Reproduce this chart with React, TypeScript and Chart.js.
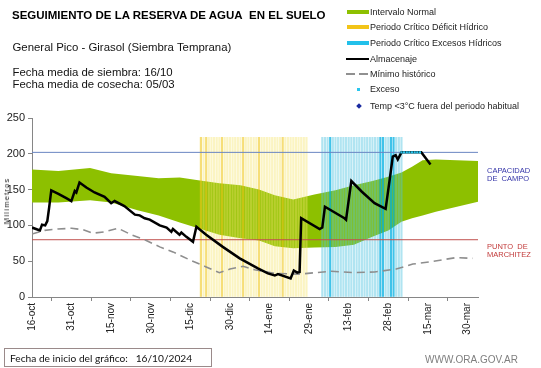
import React, { useEffect, useRef } from 'react';
import { Chart, registerables } from 'chart.js';

Chart.register(...registerables);

// ---- data (x = days since 16-oct) ----
const tickLabels = ['16-oct', '31-oct', '15-nov', '30-nov', '15-dic', '30-dic', '14-ene', '29-ene', '13-feb', '28-feb', '15-mar', '30-mar'];

const capacidadCampo = 202;
const puntoMarchitez = 80;
const stripeTop = 223;

const storageDays = [0, 1.5, 3, 3.8, 5, 5.8, 6.5, 7.3, 10, 13, 14.9, 16.2, 16.8, 18, 20.6, 23.7, 27.5, 30, 31.3, 35, 39, 40.8, 42.7, 44.6, 48.4, 51, 52.8, 53.4, 55.9, 56.6, 58.5, 61, 62.3, 66, 72.3, 78.7, 85.6, 89.4, 92, 93.2, 98, 99.2, 100.5, 101.4, 102, 109, 110, 111, 118.4, 119, 121, 125, 129.8, 134, 135.5, 136.7, 137.8, 138.6, 140, 147.5, 151];
const storageValues = [97, 95, 93, 101, 100, 106, 125, 149, 144, 138, 134, 148, 146, 160, 153, 146, 140, 131, 134, 127, 115, 114, 110, 108, 100, 97, 91, 95, 87, 90, 84, 77, 98, 87, 70, 54, 40, 33, 30, 32, 26, 37, 34, 35, 110, 95, 97, 126, 110, 108, 162, 147, 131, 123, 163, 196, 198, 192, 202, 202, 185];

const minDays = [0, 4.8, 9.8, 15, 19.3, 23, 27.5, 32.6, 37.6, 42.7, 48.4, 53.4, 59.7, 66, 71, 75, 80, 84.4, 92, 100.8, 104.5, 113.4, 122.2, 129.8, 138, 144.3, 150.6, 160.7, 167];
const minValues = [88, 93, 95, 96, 94, 89, 91, 96, 87, 80, 70, 63, 52, 42, 34, 39, 43, 38, 33, 32, 33, 36, 34, 35, 39, 46, 49, 55, 54];

const bandDays = [0, 10, 22, 30, 40, 48, 56, 63, 71, 79, 86, 92, 99, 107, 115, 122, 129, 135, 140, 144, 148, 153, 161, 169];
const bandUpper = [178, 176, 180, 173, 169, 166, 167, 163, 159, 156, 150, 142, 136, 143, 149, 156, 162, 168, 174, 182, 191, 192, 191, 190];
const bandLower = [132, 132, 135, 132, 121, 114, 104, 96, 87, 82, 79, 71, 68, 69, 70, 73, 84, 93, 105, 110, 114, 119, 126, 133];

const excessDays = [140, 141, 142, 143, 144, 145, 146, 147];

const deficitDays = [64, 65, 66, 67, 68, 69, 70, 71, 72, 73, 74, 75, 76, 77, 78, 79, 80, 81, 82, 83, 84, 85, 86, 87, 88, 89, 90, 91, 92, 93, 94, 95, 96, 97, 98, 99, 100, 101, 102, 103, 104];
const deficitStrong = [64, 66, 72, 80, 86, 95];
const excessPeriodDays = [110, 111, 112, 113, 114, 115, 116, 117, 118, 119, 120, 121, 122, 123, 124, 125, 126, 127, 128, 129, 130, 131, 132, 133, 134, 135, 136, 137, 138, 139, 140];
const excessStrong = [113, 132, 133, 136, 137];

const FONT = '"Liberation Sans", Arial, sans-serif';

function pts(xs: number[], ys: number[]) {
  return xs.map((x, i) => ({ x, y: ys[i] }));
}

function ChartCanvas() {
  const ref = useRef<HTMLCanvasElement | null>(null);
  useEffect(() => {
    const canvas = ref.current!;
    Chart.defaults.font.family = FONT;
    const axisColor = '#868686';
    const chart = new Chart(canvas, {
      type: 'line',
      data: {
        datasets: [
          {
            type: 'line',
            data: pts(excessDays, excessDays.map(() => capacidadCampo)),
            showLine: false,
            pointStyle: 'rect',
            pointRadius: 1.6,
            pointBackgroundColor: '#2ac6ee',
            pointBorderWidth: 0,
            order: -1,
          } as any,
          {
            type: 'line',
            data: pts(storageDays, storageValues),
            borderColor: '#000000',
            borderWidth: 2.5,
            pointRadius: 0,
            tension: 0,
            fill: false,
            order: 0,
          },
          {
            type: 'line',
            data: pts(minDays, minValues),
            borderColor: '#8e8e8e',
            borderWidth: 1.6,
            borderDash: [8, 5],
            pointRadius: 0,
            fill: false,
            order: 1,
          },
          {
            type: 'line',
            data: [{ x: 0, y: capacidadCampo }, { x: 169, y: capacidadCampo }],
            borderColor: '#6a86c2',
            borderWidth: 1,
            pointRadius: 0,
            fill: false,
            order: 1,
          },
          {
            type: 'line',
            data: [{ x: 0, y: puntoMarchitez }, { x: 169, y: puntoMarchitez }],
            borderColor: '#c0504d',
            borderWidth: 1,
            pointRadius: 0,
            fill: false,
            order: 1,
          },
          {
            type: 'bar',
            data: deficitDays.map((d) => ({ x: d, y: stripeTop })),
            backgroundColor: deficitDays.map((d) => (deficitStrong.includes(d) ? 'rgba(240,200,30,0.6)' : 'rgba(245,228,110,0.42)')),
            borderWidth: 0,
            barThickness: 1.5,
            grouped: false,
            order: 2,
          } as any,
          {
            type: 'bar',
            data: excessPeriodDays.map((d) => ({ x: d, y: stripeTop })),
            backgroundColor: excessPeriodDays.map((d) => (excessStrong.includes(d) ? 'rgba(0,175,225,0.75)' : 'rgba(80,195,225,0.45)')),
            borderWidth: 0,
            barThickness: 1.5,
            grouped: false,
            order: 2,
          } as any,
          {
            type: 'line',
            data: pts(bandDays, bandUpper),
            borderWidth: 0,
            borderColor: 'rgba(0,0,0,0)',
            pointRadius: 0,
            backgroundColor: '#8dc000',
            fill: '+1',
            order: 3,
          },
          {
            type: 'line',
            data: pts(bandDays, bandLower),
            borderWidth: 0,
            borderColor: 'rgba(0,0,0,0)',
            pointRadius: 0,
            fill: false,
            order: 3,
          },
        ],
      },
      options: {
        responsive: false,
        animation: false,
        events: [],
        layout: { padding: { left: 0, right: 63, top: 118, bottom: 26 } },
        plugins: { legend: { display: false }, tooltip: { enabled: false } },
        scales: {
          x: {
            type: 'linear',
            min: 0,
            max: 169,
            offset: false,
            grid: { drawOnChartArea: false, drawTicks: true, tickLength: 4, color: axisColor },
            border: { color: axisColor },
            ticks: {
              stepSize: 15,
              autoSkip: false,
              includeBounds: false,
              minRotation: 90,
              maxRotation: 90,
              padding: 2,
              color: '#222',
              font: { size: 10, family: FONT },
              callback: (v: any) => {
                const i = Math.round(Number(v) / 15);
                return tickLabels[i] ?? '';
              },
            },
            afterFit: (s: any) => {
              s.height = 45;
            },
          },
          y: {
            type: 'linear',
            min: 0,
            max: 250,
            grid: { drawOnChartArea: false, drawTicks: true, tickLength: 4, color: axisColor },
            border: { color: axisColor },
            ticks: { stepSize: 50, padding: 3, color: '#222', font: { size: 11, family: FONT } },
            afterFit: (s: any) => {
              s.width = 32;
            },
          },
        },
      },
    } as any);
    return () => chart.destroy();
  }, []);
  return <canvas ref={ref} width={541} height={368} style={{ position: 'absolute', left: 0, top: 0, width: 541, height: 368 }} />;
}

const legendRows = [
  { cy: 11.7, kind: 'bar', color: '#8dc000', text: 'Intervalo Normal' },
  { cy: 26.7, kind: 'bar', color: '#f2c418', text: 'Periodo Crítico Déficit Hídrico' },
  { cy: 42.7, kind: 'bar', color: '#22c0ea', text: 'Periodo Crítico Excesos Hídricos' },
  { cy: 59.3, kind: 'line', color: '#000000', text: 'Almacenaje' },
  { cy: 74, kind: 'dash', color: '#909090', text: 'Mínimo histórico' },
  { cy: 89.3, kind: 'dot', color: '#2ac6ee', text: 'Exceso' },
  { cy: 106, kind: 'diamond', color: '#1a2aa0', text: 'Temp <3°C fuera del periodo habitual' },
];

function LegendSymbol({ kind, color, cy }: { kind: string; color: string; cy: number }) {
  const base: React.CSSProperties = { position: 'absolute' };
  if (kind === 'bar') return <div style={{ ...base, left: 347, top: cy - 2, width: 22, height: 4, background: color }} />;
  if (kind === 'line') return <div style={{ ...base, left: 346, top: cy - 1, width: 23, height: 2, background: color }} />;
  if (kind === 'dash')
    return (
      <>
        <div style={{ ...base, left: 346, top: cy - 1, width: 9, height: 2, background: color }} />
        <div style={{ ...base, left: 359, top: cy - 1, width: 9, height: 2, background: color }} />
      </>
    );
  if (kind === 'dot') return <div style={{ ...base, left: 357, top: cy - 1.5, width: 3, height: 3, background: color }} />;
  return <div style={{ ...base, left: 357, top: cy - 2, width: 4, height: 4, background: color, transform: 'rotate(45deg)' }} />;
}

export default function App() {
  useEffect(() => {
    document.body.style.margin = '0';
  }, []);
  const txt: React.CSSProperties = { position: 'absolute', whiteSpace: 'nowrap', fontFamily: FONT, color: '#111' };
  return (
    <div style={{ position: 'fixed', left: 0, top: 0, width: 541, height: 368, background: '#fff', overflow: 'hidden' }}>
      <ChartCanvas />
      <div style={{ ...txt, left: 12, top: 10.2, fontSize: 11.5, lineHeight: '11.5px', fontWeight: 'bold', color: '#000' }}>
        SEGUIMIENTO DE LA RESERVA DE AGUA&nbsp; EN EL SUELO
      </div>
      <div style={{ ...txt, left: 12.5, top: 40.5, fontSize: 11.4, lineHeight: '12px' }}>General Pico - Girasol (Siembra Temprana)</div>
      <div style={{ ...txt, left: 12.5, top: 65.5, fontSize: 11.4, lineHeight: '12px' }}>Fecha media de siembra: 16/10</div>
      <div style={{ ...txt, left: 12.5, top: 78.2, fontSize: 11.4, lineHeight: '12px' }}>Fecha media de cosecha: 05/03</div>

      {legendRows.map((r, i) => (
        <React.Fragment key={i}>
          <LegendSymbol kind={r.kind} color={r.color} cy={r.cy} />
          <div style={{ ...txt, left: 370, top: r.cy - 5, fontSize: 9, lineHeight: '10px', color: '#222' }}>{r.text}</div>
        </React.Fragment>
      ))}

      <div
        style={{
          ...txt,
          left: 7,
          top: 201,
          fontSize: 7.5,
          lineHeight: '8px',
          letterSpacing: '1.2px',
          color: '#222',
          transform: 'translate(-50%, -50%) rotate(-90deg)',
        }}
      >
        Milímetros
      </div>

      <div style={{ ...txt, left: 487, top: 166.5, fontSize: 7.5, lineHeight: '8.5px', color: '#3434a8' }}>
        CAPACIDAD
        <br />
        DE&nbsp; CAMPO
      </div>
      <div style={{ ...txt, left: 487, top: 242.5, fontSize: 7.5, lineHeight: '8.5px', color: '#c23a3a' }}>
        PUNTO&nbsp; DE
        <br />
        MARCHITEZ
      </div>

      <div
        style={{
          position: 'absolute',
          left: 4,
          top: 348,
          width: 208,
          height: 19,
          border: '1px solid #9a8a8a',
          boxSizing: 'border-box',
        }}
      />
      <div style={{ ...txt, left: 10, top: 352.5, fontSize: 10.2, lineHeight: '11px', fontFamily: 'Lato, ' + FONT, color: '#111' }}>
        Fecha de inicio del gráfico:&nbsp;&nbsp; 16/10/2024
      </div>
      <div style={{ ...txt, left: 425, top: 355, fontSize: 10, lineHeight: '10px', color: '#7f7f7f' }}>WWW.ORA.GOV.AR</div>
    </div>
  );
}
